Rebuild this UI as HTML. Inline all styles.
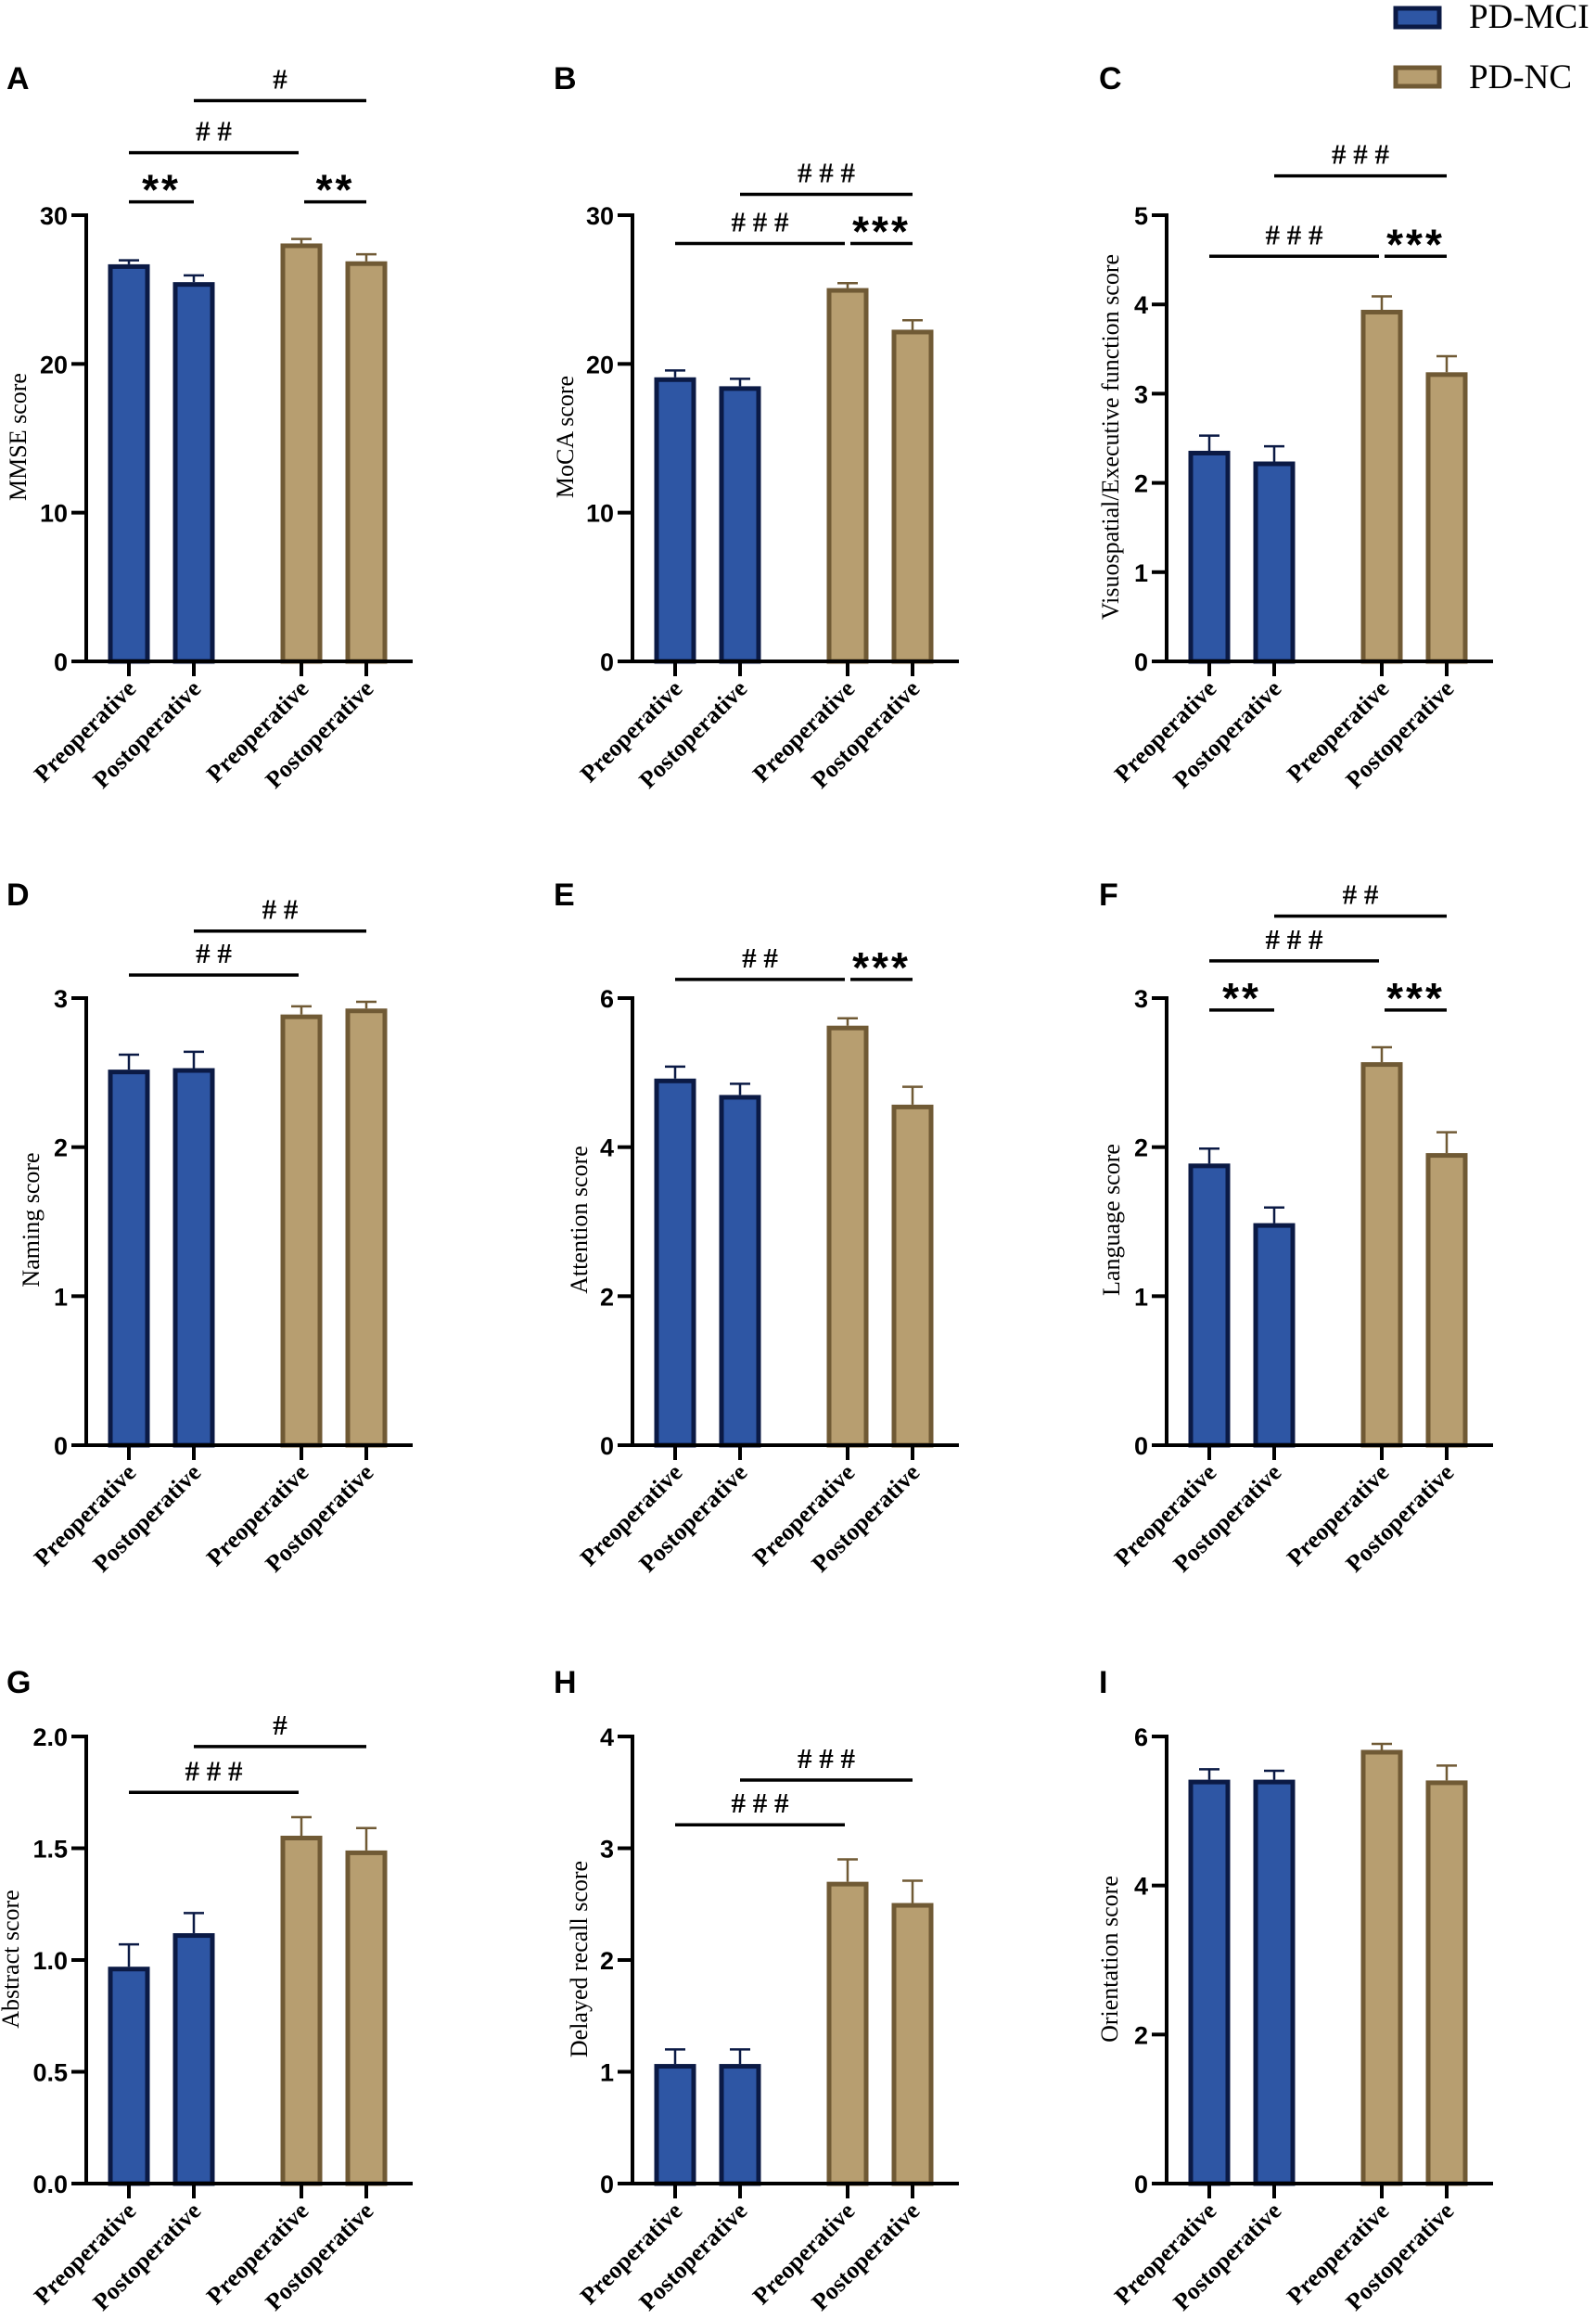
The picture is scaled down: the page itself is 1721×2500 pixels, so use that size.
<!DOCTYPE html>
<html><head><meta charset="utf-8"><style>
html,body{margin:0;padding:0;background:#fff;}
svg{display:block;}
</style></head><body>
<svg id="fig" width="1721" height="2500" viewBox="0 0 1721 2500" xmlns="http://www.w3.org/2000/svg">
<g>
<rect x="1505" y="9" width="47" height="20" fill="#2e56a4" stroke="#0b1a45" stroke-width="5"/>
<text x="1584" y="30" font-family="Liberation Serif, serif" font-size="37">PD-MCI</text>
<rect x="1505" y="73" width="47" height="20" fill="#b79e70" stroke="#705a35" stroke-width="5"/>
<text x="1584" y="95" font-family="Liberation Serif, serif" font-size="37">PD-NC</text>
</g>
</svg>
<script>
// ---- data ----
const categories = ["Preoperative","Postoperative","Preoperative","Postoperative"];
const panelLetters = ["A","B","C","D","E","F","G","H","I"];
const yTitles = ["MMSE score","MoCA score","Visuospatial/Executive function score","Naming score","Attention score","Language score","Abstract score","Delayed recall score","Orientation score"];
const yMax = [30,30,5,3,6,3,2,4,6];
const yTickLabels = [["0","10","20","30"],["0","10","20","30"],["0","1","2","3","4","5"],["0","1","2","3"],["0","2","4","6"],["0","1","2","3"],["0.0","0.5","1.0","1.5","2.0"],["0","1","2","3","4"],["0","2","4","6"]];
const yTickValues = [[0,10,20,30],[0,10,20,30],[0,1,2,3,4,5],[0,1,2,3],[0,2,4,6],[0,1,2,3],[0,0.5,1,1.5,2],[0,1,2,3,4],[0,2,4,6]];
const means = [
 [26.7,25.5,28.1,26.9],
 [19.1,18.5,25.1,22.3],
 [2.36,2.24,3.94,3.24],
 [2.52,2.53,2.89,2.93],
 [4.92,4.70,5.63,4.57],
 [1.89,1.49,2.57,1.96],
 [0.97,1.12,1.556,1.49],
 [1.07,1.07,2.70,2.51],
 [5.42,5.42,5.82,5.41]];
const errs = [
 [0.27,0.45,0.3,0.47],
 [0.46,0.5,0.33,0.64],
 [0.17,0.17,0.15,0.18],
 [0.1,0.11,0.055,0.045],
 [0.16,0.15,0.1,0.24],
 [0.1,0.105,0.1,0.14],
 [0.1,0.09,0.083,0.1],
 [0.13,0.13,0.2,0.2],
 [0.14,0.12,0.08,0.2]];
// significance brackets: [fromBar, toBar, yValue, label]
const sigs = [
 [[0,1,30.9,"**"],[2,3,30.9,"**"],[0,2,34.2,"# #"],[1,3,37.7,"#"]],
 [[0,2,28.1,"# # #"],[2,3,28.1,"***"],[1,3,31.4,"# # #"]],
 [[0,2,4.54,"# # #"],[2,3,4.54,"***"],[1,3,5.44,"# # #"]],
 [[0,2,3.155,"# #"],[1,3,3.45,"# #"]],
 [[0,2,6.25,"# #"],[2,3,6.25,"***"]],
 [[0,1,2.92,"**"],[2,3,2.92,"***"],[0,2,3.25,"# # #"],[1,3,3.55,"# #"]],
 [[0,2,1.75,"# # #"],[1,3,1.955,"#"]],
 [[0,2,3.21,"# # #"],[1,3,3.61,"# # #"]],
 []];

// ---- layout ----
const NS="http://www.w3.org/2000/svg";
const svg=document.getElementById('fig');
const colX=[93,682,1258], rowY0=[713,1558,2354], rowTop=[232,1076,1872];
const letterX=[7,597,1185], letterY=[96,976,1825];
const titleX=[20,610,1198, 34,625,1199, 12,625,1197], titleY=[471,1315,2112];
const barOff=[46,116,232,302], barW=45;
const fills=["#2e56a4","#2e56a4","#b79e70","#b79e70"], strokes=["#0b1a45","#0b1a45","#705a35","#705a35"];
function mk(tag,attrs,parent){const e=document.createElementNS(NS,tag);for(const k in attrs)e.setAttribute(k,attrs[k]);(parent||svg).appendChild(e);return e;}

for(let p=0;p<9;p++){
  const c=p%3, r=Math.floor(p/3);
  const ax=colX[c], y0=rowY0[r], yt=rowTop[r];
  const yS=v=>y0-(v/yMax[p])*(y0-yt);
  const xS=i=>ax+barOff[i];
  const g=mk('g',{});
  
  
  const L=mk('text',{x:letterX[c],y:letterY[r],'font-family':'Liberation Sans, sans-serif','font-weight':'bold','font-size':34},g);
  L.textContent=panelLetters[p];
  
  
  const tx=titleX[p]+8, ty=titleY[r];
  const T=mk('text',{x:tx,y:ty,transform:`rotate(-90 ${tx} ${ty})`,'text-anchor':'middle','font-family':'Liberation Serif, serif','font-size':26},g);
  T.textContent=yTitles[p];
  
  
  for(let i=0;i<4;i++){
    const cx=xS(i), top=yS(means[p][i]), et=yS(means[p][i]+errs[p][i]);
    const eb=mk('path',{d:`M${cx},${top} V${et} M${cx-11},${et} H${cx+11}`,stroke:strokes[i],'stroke-width':2.5,fill:'none'},g);
    
    
    const b=mk('rect',{x:cx-barW/2+2.5,y:top+2.5,width:barW-5,height:y0-top-2.5,fill:fills[i],stroke:strokes[i],'stroke-width':5},g);
    
    
  }
  const ya=mk('line',{x1:ax,y1:yt-2,x2:ax,y2:y0,stroke:'#000','stroke-width':4},g);
  
  
  const xa=mk('line',{x1:ax-16,y1:y0,x2:ax+352,y2:y0,stroke:'#000','stroke-width':4},g);
  
  
  yTickValues[p].forEach((v,k)=>{
    const y=yS(v);
    if(v>0) mk('line',{x1:ax-16,y1:y,x2:ax,y2:y,stroke:'#000','stroke-width':4},g);
    const t=mk('text',{x:ax-20,y:y+10,'text-anchor':'end','font-family':'Liberation Sans, sans-serif','font-weight':'bold','font-size':27},g);
    t.textContent=yTickLabels[p][k];
    
    
  });
  categories.forEach((cat,i)=>{
    const x=xS(i);
    mk('line',{x1:x,y1:y0,x2:x,y2:y0+16,stroke:'#000','stroke-width':4},g);
    const lx=x+9, ly=y0+31;
    const t=mk('text',{x:lx,y:ly,transform:`rotate(-45 ${lx} ${ly})`,'text-anchor':'end','font-family':'Liberation Serif, serif','font-weight':'bold','font-size':26},g);
    t.textContent=cat;
    
    
  });
  sigs[p].forEach(s=>{
    const [a,b,v,lab]=s;
    const y=yS(v);
    const x1=xS(a)+(a===2?3:0), x2=xS(b)-(b===2?3:0);
    const ln=mk('line',{x1:x1,y1:y,x2:x2,y2:y,stroke:'#000','stroke-width':3.5},g);
    
    
    const star=lab.indexOf('*')>=0;
    const t=mk('text',{x:(x1+x2)/2,y:star?y+3:y-13,'text-anchor':'middle','font-family':star?'Liberation Sans, sans-serif':'Liberation Serif, serif','font-weight':'bold','font-size':star?46:31,'letter-spacing':star?3:0},g);
    t.textContent=lab;
    
    
  });
}
</script>
</body></html>
